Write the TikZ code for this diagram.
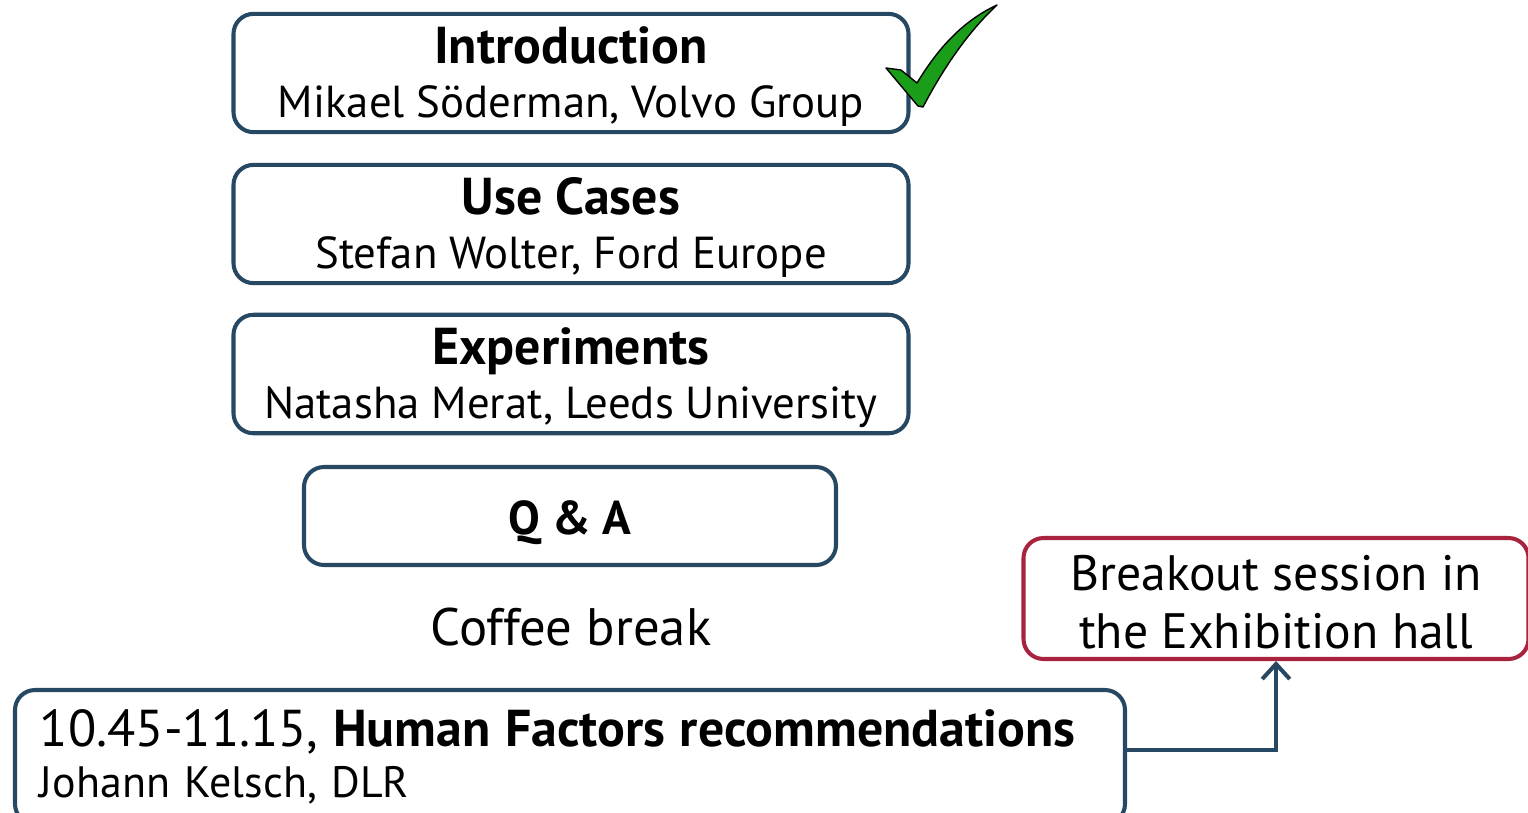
\documentclass[tikz,border=0pt]{standalone}
\usepackage{fontspec}
\setmainfont{PT Sans}
\usetikzlibrary{arrows.meta, positioning}

\definecolor{boxblue}{RGB}{38,72,98}
\definecolor{boxred}{RGB}{168,36,62}
\definecolor{tickgreen}{RGB}{26,158,26}

\tikzset{
  talk/.style={draw=boxblue, line width=2.3pt, rounded corners=0.4cm,
    minimum width=13.5cm, minimum height=2.36cm, align=center,
    font=\fontsize{25.5}{30.5}\selectfont},
  qa/.style={talk, minimum width=10.64cm, minimum height=1.96cm},
  breakout/.style={talk, draw=boxred, minimum width=10.1cm, minimum height=2.42cm,
    font=\fontsize{28.3}{33}\selectfont},
  hf/.style={talk, minimum width=22.16cm, minimum height=2.68cm, align=left,
    text width=21.2cm, inner xsep=0.5cm, font=\fontsize{25}{29}\selectfont}
}

% title line, with a strut to push the text down a little
\newcommand{\ttl}[1]{{\fontsize{29.5}{30}\selectfont\bfseries\rule{0pt}{0.88cm}#1}}

\begin{document}
\begin{tikzpicture}
                \useasboundingbox (0,0) rectangle (30.56,-16.24);

                % Session boxes
                \node[talk] (intro) at (11.42,-1.46) {\ttl{Introduction}\\Mikael Söderman, Volvo Group};
                \node[talk] (usecases) at (11.42,-4.48) {\ttl{Use Cases}\\Stefan Wolter, Ford Europe};
                \node[talk] (experiments) at (11.42,-7.48) {\ttl{Experiments}\\Natasha Merat, Leeds University};
                \node[qa, font=\fontsize{27}{30}\selectfont\bfseries] (qanda) at (11.40,-10.32) {\rule{0pt}{0.95cm}Q \& A};

                \node[font=\fontsize{30}{30}\selectfont] (coffee) at (11.42,-12.54) {Coffee break};

                % Breakout and Human Factors
                \node[breakout] (brk) at (25.52,-11.97) {\rule{0pt}{0.84cm}Breakout session in\\the Exhibition hall};
                \node[hf] (hf) at (11.40,-15.14) {{\fontsize{29.5}{30}\selectfont 10.45-11.15, \textbf{Human Factors recommendations}}\\Johann Kelsch, DLR};

                \draw[boxblue, line width=2.3pt, -{Straight Barb[length=0.3cm, width=0.55cm]}] (hf.east |- 0,-15.0) -| (brk.south);

                % Check mark
                \draw[fill=tickgreen, line width=0.8pt, line join=round]
                    (17.72,-1.36) -- (18.02,-1.40) -- (18.34,-1.66)
                    .. controls (18.80,-0.90) and (19.30,-0.40) .. (19.94,-0.10)
                    .. controls (19.40,-0.60) and (18.90,-1.30) .. (18.46,-2.14)
                    -- (18.36,-2.12) -- cycle;
            \end{tikzpicture}
\end{document}
